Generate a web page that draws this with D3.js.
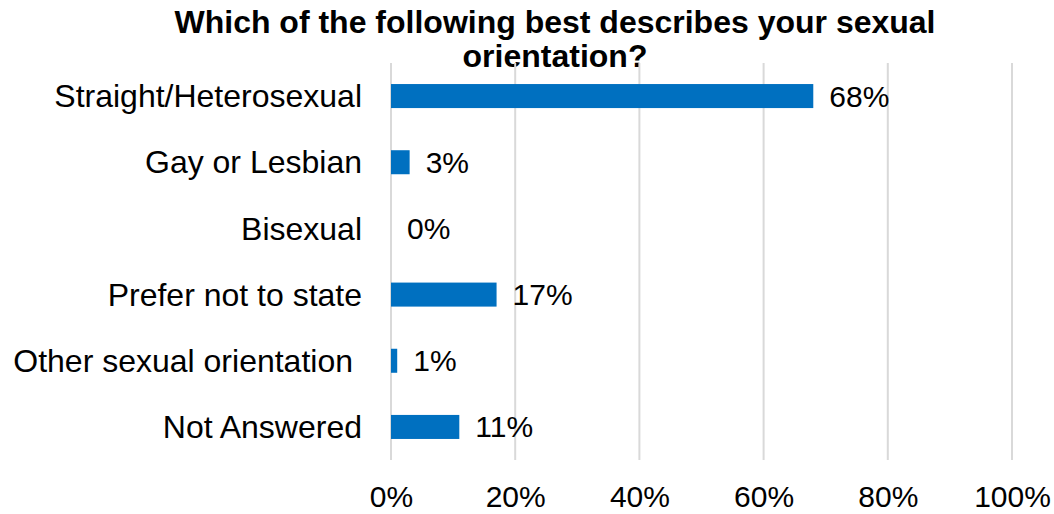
<!DOCTYPE html>
<html>
<head>
<meta charset="utf-8">
<script src="https://cdn.jsdelivr.net/npm/d3@7"></script>
<style>
  html, body { margin: 0; padding: 0; background: #fff; }
  svg { display: block; }
  text { font-family: Arial, "Liberation Sans", sans-serif; fill: #000; }
</style>
</head>
<body>
<svg id="chart" width="1054" height="514"></svg>
<script>
// Survey responses (share of respondents)
const categories = [
  "Straight/Heterosexual",
  "Gay or Lesbian",
  "Bisexual",
  "Prefer not to state",
  "Other sexual orientation",
  "Not Answered"
];
const values = [68, 3, 0, 17, 1, 11];
const tickValues = [0, 20, 40, 60, 80, 100];
const titleLines = ["Which of the following best describes your sexual", "orientation?"];

const svg = d3.select("#chart");
const plotLeft = 391, plotRight = 1012, plotTop = 63, plotBottom = 460;

const x = d3.scaleLinear().domain([0, 100]).range([plotLeft, plotRight]);
const y = d3.scaleBand().domain(categories).range([plotTop, plotBottom])
  .paddingInner(0.637).paddingOuter(0.318);

// Title
const title = svg.append("text")
  .attr("text-anchor", "middle")
  .attr("font-size", 32)
  .attr("font-weight", "bold");
titleLines.forEach((t, i) => {
  title.append("tspan").attr("x", 555).attr("y", 33 + i * 34).text(t);
});

// Vertical gridlines
svg.append("g").selectAll("line").data(tickValues).join("line")
  .attr("x1", d => x(d)).attr("x2", d => x(d))
  .attr("y1", plotTop).attr("y2", plotBottom)
  .attr("stroke", "#d9d9d9").attr("stroke-width", 2);

// Bottom axis labels
const xAxis = d3.axisBottom(x).tickValues(tickValues)
  .tickFormat(d => d + "%").tickSize(0).tickPadding(0);
const gx = svg.append("g").attr("transform", `translate(0,${plotBottom})`).call(xAxis);
gx.select(".domain").remove();
gx.selectAll("text")
  .attr("font-size", 30).attr("font-family", "Arial, 'Liberation Sans', sans-serif")
  .attr("fill", "#000").attr("dy", null).attr("y", 47);

// Category labels
const yAxis = d3.axisLeft(y).tickSize(0).tickPadding(29);
const gy = svg.append("g").attr("transform", `translate(${plotLeft},0)`).call(yAxis);
gy.select(".domain").remove();
gy.selectAll("text")
  .attr("font-size", 32).attr("font-family", "Arial, 'Liberation Sans', sans-serif")
  .attr("fill", "#000").attr("dy", "0.35em")
  .attr("x", d => d === "Other sexual orientation" ? -38 : -29);

// Bars
svg.append("g").selectAll("rect").data(values).join("rect")
  .attr("x", x(0))
  .attr("y", (d, i) => y(categories[i]))
  .attr("width", d => x(d) - x(0))
  .attr("height", y.bandwidth())
  .attr("fill", "#0070c0");

// Value labels
svg.append("g").selectAll("text").data(values).join("text")
  .attr("x", d => x(d) + 16)
  .attr("y", (d, i) => y(categories[i]) + y.bandwidth() / 2)
  .attr("dy", "0.35em")
  .attr("font-size", 30)
  .text(d => d + "%");
</script>
</body>
</html>
